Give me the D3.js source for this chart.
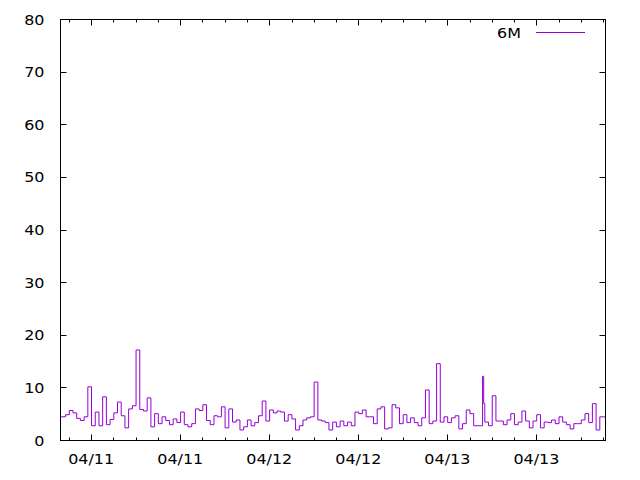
<!DOCTYPE html>
<html>
<head>
<meta charset="utf-8">
<script src="https://cdn.jsdelivr.net/npm/d3@7"></script>
<style>
  body { margin: 0; background: #fff; }
  svg { display: block; }
  text { font-family: "DejaVu Sans", sans-serif; font-size: 14px; fill: #000; }
</style>
</head>
<body>
<svg width="640" height="480"></svg>
<script>
// first sample at the left edge, last sample at the right edge
var firstTime = new Date(2024, 3, 10, 19, 52)
var firstValue = 8.4
var lastTime = new Date(2024, 3, 13, 21, 19)
var lastValue = 4.5

// half-hourly samples, the first one at 04/10 20:33
var sampleStart = new Date(2024, 3, 10, 20, 33)
var values = [
  4.5, 4.9, 5.7, 5.25, 4.2, 3.8, 4.5, 10.2, 2.8, 5.4,
  2.8, 8.3, 3.0, 4.0, 5.25, 7.3, 4.7, 2.4, 6.0, 6.6,
  17.2, 5.9, 5.6, 8.1, 2.6, 5.1, 3.2, 4.5, 3.8, 3.0,
  4.1, 3.4, 5.4, 3.0, 2.6, 3.2, 6.0, 5.7, 6.8, 3.8,
  3.0, 4.7, 4.5, 6.4, 2.4, 6.0, 3.5, 3.9, 2.0, 2.6,
  3.9, 2.8, 3.4, 4.7, 7.5, 3.7, 5.8, 5.25, 5.6, 5.4,
  3.7, 4.9, 4.1, 2.0, 2.8, 3.9, 4.3, 4.5, 11.1, 3.9,
  3.7, 3.4, 2.0, 3.5, 2.6, 3.7, 2.8, 3.5, 2.8, 5.4,
  5.1, 5.8, 4.5, 4.5, 3.2, 6.0, 6.4, 2.2, 2.4, 6.8,
  6.2, 3.2, 4.9, 3.4, 4.3, 3.4, 2.8, 4.3, 9.6, 3.2,
  3.7, 14.6, 3.5, 4.5, 3.4, 4.3, 4.7, 2.2, 3.2, 5.8,
  5.1, 2.8, 2.8, 7.0, 3.5, 2.8, 8.5, 3.7, 3.7, 3.0,
  3.9, 5.1, 3.0, 3.5, 5.6, 3.7, 2.4, 3.7, 4.9, 2.4,
  3.5, 3.4, 3.9, 3.2, 4.5, 3.5, 3.0, 2.2, 3.2, 3.2,
  3.9, 5.1, 3.4, 7.0, 2.0, 4.5
]

// two extra samples between the regular ones (short spike on 04/13)
var extraTimes = [new Date(2024, 3, 13, 4, 45), new Date(2024, 3, 13, 4, 54)]
var extraValues = [2.8, 12.2]

var yTicks = [0, 10, 20, 30, 40, 50, 60, 70, 80]
var seriesName = "6M"

var plot = {left: 60.5, right: 605.5, top: 19.5, bottom: 440.5}
var lineColor = "#9400d3"
var textStretch = 1.14

var points = [{t: firstTime, v: firstValue}]
values.forEach(function(v, i) {
  points.push({t: d3.timeMinute.offset(sampleStart, i * 30), v: v})
})
extraTimes.forEach(function(t, i) {
  points.push({t: t, v: extraValues[i]})
})
points.push({t: lastTime, v: lastValue})
points.sort(function(a, b) { return a.t - b.t })

var svg = d3.select("svg")

var xScale = d3.scaleTime()
  .domain([firstTime, lastTime])
  .range([plot.left, plot.right])
var yScale = d3.scaleLinear()
  .domain([0, 80])
  .range([plot.bottom, plot.top])

var majorTicks = xScale.ticks(d3.timeHour.every(12))
var minorTicks = xScale.ticks(d3.timeHour.every(3))

var ticks = svg.append("g").attr("stroke", "#000").attr("stroke-width", 1)

// x ticks, bottom and mirrored on top
minorTicks.forEach(function(t) {
  var x = Math.round(xScale(t)) + 0.5
  var len = majorTicks.some(function(m) { return +m === +t }) ? 6 : 3
  ticks.append("line").attr("x1", x).attr("x2", x)
    .attr("y1", plot.bottom).attr("y2", plot.bottom - len)
  ticks.append("line").attr("x1", x).attr("x2", x)
    .attr("y1", plot.top).attr("y2", plot.top + len)
})

// y ticks, left and mirrored on right
yTicks.forEach(function(v) {
  var y = Math.round(yScale(v) - 0.5) + 0.5
  ticks.append("line").attr("x1", plot.left).attr("x2", plot.left + 6)
    .attr("y1", y).attr("y2", y)
  ticks.append("line").attr("x1", plot.right).attr("x2", plot.right - 6)
    .attr("y1", y).attr("y2", y)
})

// text placed at (x, y) and stretched a little horizontally like the original
var label = function(sel, x, y, anchor) {
  return sel.append("text")
    .attr("transform", "translate(" + x + "," + y + ") scale(" + textStretch + ",1)")
    .attr("text-anchor", anchor)
}

yTicks.forEach(function(v) {
  label(svg, 44.5, yScale(v), "end").attr("dy", "0.36em").text(v)
})

var fmt = d3.timeFormat("%m/%d")
majorTicks.forEach(function(t) {
  label(svg, xScale(t), 464, "middle").text(fmt(t))
})

var line = d3.line()
  .x(function(d) { return xScale(d.t) })
  .y(function(d) { return yScale(d.v) })
  .curve(d3.curveStepBefore)

svg.append("path")
  .datum(points)
  .attr("d", line)
  .attr("fill", "none")
  .attr("stroke", lineColor)
  .attr("stroke-width", 1)

// border
svg.append("rect")
  .attr("x", plot.left).attr("y", plot.top)
  .attr("width", plot.right - plot.left)
  .attr("height", plot.bottom - plot.top)
  .attr("fill", "none")
  .attr("stroke", "#000")
  .attr("stroke-width", 1)

// legend
label(svg, 521, 33, "end").attr("dy", "0.36em").text(seriesName)
svg.append("line")
  .attr("x1", 536).attr("x2", 585)
  .attr("y1", 32.5).attr("y2", 32.5)
  .attr("stroke", lineColor)
  .attr("stroke-width", 1)
</script>
</body>
</html>
